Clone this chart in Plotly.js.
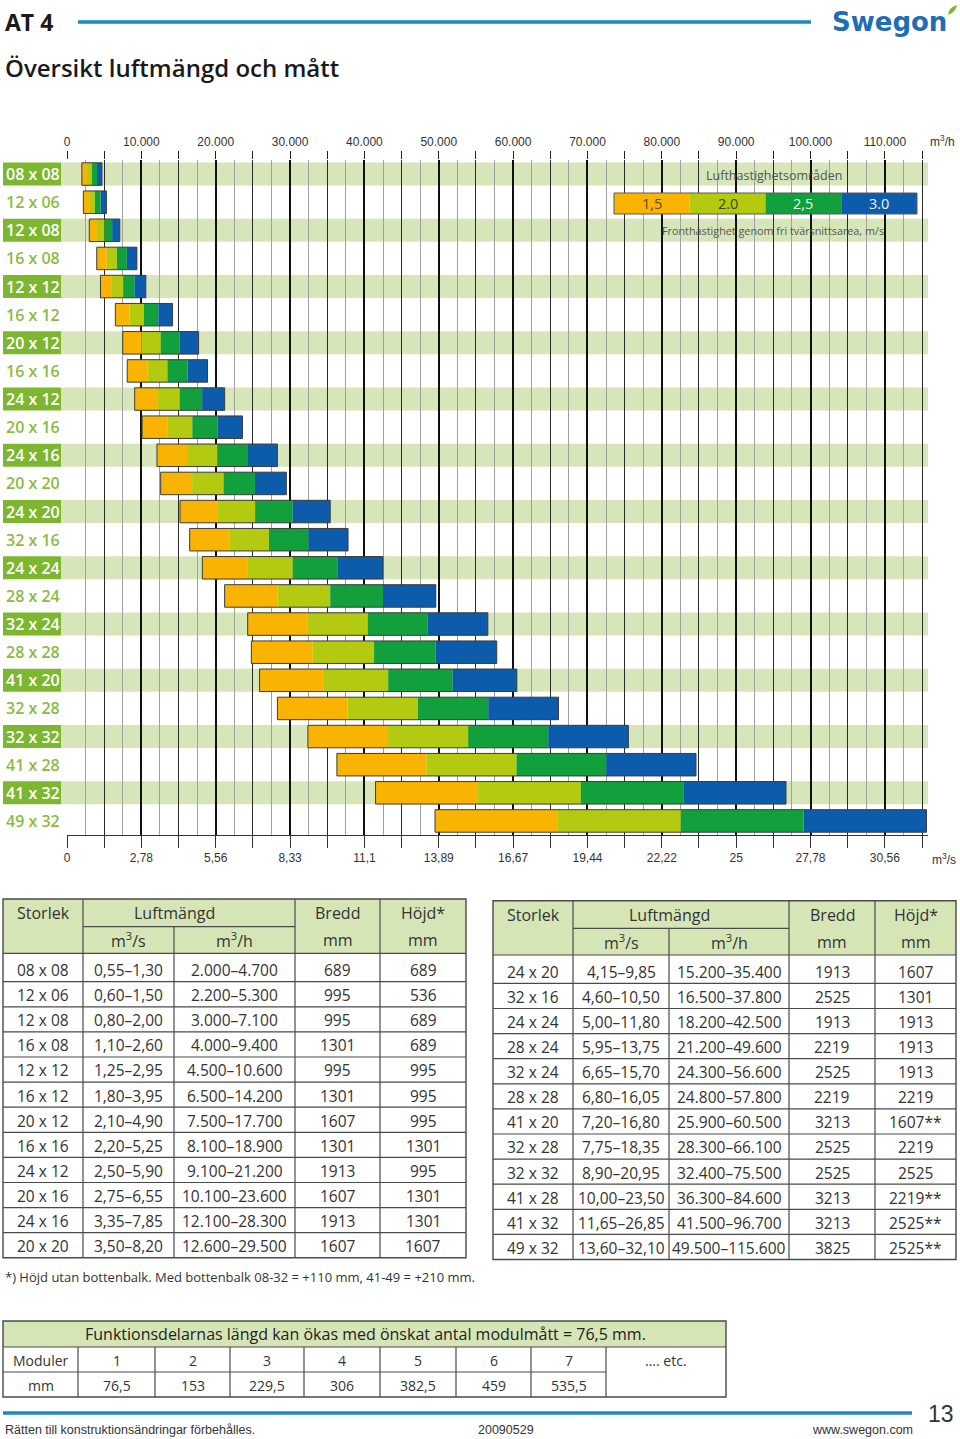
<!DOCTYPE html>
<html>
<head>
<meta charset="utf-8">
<script src="https://cdn.plot.ly/plotly-3.0.1.min.js"></script>
<style>
  html, body { margin: 0; padding: 0; background: #fff; }
  #chart { width: 960px; height: 1439px; }
</style>
</head>
<body>
<div id="chart"></div>
<script>
// Storlek (rows of the chart, top to bottom)
const sizes = ['08 x 08', '12 x 06', '12 x 08', '16 x 08', '12 x 12', '16 x 12', '20 x 12', '16 x 16',
    '24 x 12', '20 x 16', '24 x 16', '20 x 20', '24 x 20', '32 x 16', '24 x 24', '28 x 24',
    '32 x 24', '28 x 28', '41 x 20', '32 x 28', '32 x 32', '41 x 28', '41 x 32', '49 x 32'];
// Luftmängd m3/h, lower and upper limit
const flowMin = [2000, 2200, 3000, 4000, 4500, 6500, 7500, 8100, 9100, 10100, 12100, 12600,
    15200, 16500, 18200, 21200, 24300, 24800, 25900, 28300, 32400, 36300, 41500, 49500];
const flowMax = [4700, 5300, 7100, 9400, 10600, 14200, 17700, 18900, 21200, 23600, 28300, 29500,
    35400, 37800, 42500, 49600, 56600, 57800, 60500, 66100, 75500, 84600, 96700, 115600];
// Luftmängd m3/s
const flowM3s = ['0,55–1,30', '0,60–1,50', '0,80–2,00', '1,10–2,60', '1,25–2,95', '1,80–3,95',
    '2,10–4,90', '2,20–5,25', '2,50–5,90', '2,75–6,55', '3,35–7,85', '3,50–8,20',
    '4,15–9,85', '4,60–10,50', '5,00–11,80', '5,95–13,75', '6,65–15,70', '6,80–16,05',
    '7,20–16,80', '7,75–18,35', '8,90–20,95', '10,00–23,50', '11,65–26,85', '13,60–32,10'];
const widthMm = ['689', '995', '995', '1301', '995', '1301', '1607', '1301', '1913', '1607', '1913', '1607',
    '1913', '2525', '1913', '2219', '2525', '2219', '3213', '2525', '2525', '3213', '3213', '3825'];
const heightMm = ['689', '536', '689', '689', '995', '995', '995', '1301', '995', '1301', '1301', '1607',
    '1607', '1301', '1913', '1913', '1913', '2219', '1607**', '2219', '2525', '2219**', '2525**', '2525**'];

// Lufthastighetsområden
const speedLabels = ['1,5', '2.0', '2,5', '3.0'];
const speedColors = ['#f8b400', '#b3ca10', '#11a03c', '#0d5cab'];
const speedTextColors = ['#5b4a1c', '#3f4712', '#eaf6ec', '#eef2fa'];

const topTickLabels = ['0', '10.000', '20.000', '30.000', '40.000', '50.000', '60.000',
    '70.000', '80.000', '90.000', '100.000', '110.000'];
const bottomTickLabels = ['0', '2,78', '5,56', '8,33', '11,1', '13,89', '16,67',
    '19,44', '22,22', '25', '27,78', '30,56'];

const moduleCounts = ['1', '2', '3', '4', '5', '6', '7'];
const moduleLengths = ['76,5', '153', '229,5', '306', '382,5', '459', '535,5'];

// ---- page helpers (pixel -> paper) ----
const W = 960, H = 1439;
const fx = v => v / W;
const fy = v => 1 - v / H;
const FONT = 'Open Sans, Noto Sans, sans-serif';
const NARROW = 'Liberation Sans Narrow, Liberation Sans, sans-serif';
const LINE = '#4a4a4a';
const HEAD_FILL = '#d6e5b6';
const shapes = [];
const annotations = [];

function box(x0, y0, x1, y1, fill, lineColor, lineWidth, layer) {
    shapes.push({
        type: 'rect', xref: 'paper', yref: 'paper',
        x0: fx(x0), x1: fx(x1), y0: fy(y0), y1: fy(y1),
        fillcolor: fill || 'rgba(0,0,0,0)',
        line: { color: lineColor || 'rgba(0,0,0,0)', width: lineWidth || 0 },
        layer: layer || 'above'
    });
}
function hline(x0, x1, y, color, width) {
    shapes.push({ type: 'line', xref: 'paper', yref: 'paper', x0: fx(x0), x1: fx(x1), y0: fy(y), y1: fy(y),
        line: { color: color || LINE, width: width || 1.2 }, layer: 'above' });
}
function vline(x, y0, y1, color, width) {
    shapes.push({ type: 'line', xref: 'paper', yref: 'paper', x0: fx(x), x1: fx(x), y0: fy(y0), y1: fy(y1),
        line: { color: color || LINE, width: width || 1.2 }, layer: 'above' });
}
function label(x, y, text, size, color, anchor, extra) {
    annotations.push(Object.assign({
        xref: 'paper', yref: 'paper', x: fx(x), y: fy(y), text: text, showarrow: false,
        xanchor: anchor || 'center', yanchor: 'middle',
        font: { family: FONT, size: size, color: color || '#333' }
    }, extra || {}));
}
const dotted = n => String(n).replace(/\B(?=(\d{3})+(?!\d))/g, '.');

// ---- page header / footer ----
label(3, 22, 'AT 4', 23, '#1a1a1a', 'left', { font: { family: FONT, size: 23, color: '#1a1a1a', weight: 700 } });
hline(78, 811, 22, '#1b8ac6', 3.5);
label(830, 22, 'Swegon', 26, '#1f6db5', 'left',
    { font: { family: 'DejaVu Sans, sans-serif', size: 26, color: '#1f6db5', weight: 700 } });
// small green leaf of the logo
shapes.push({ type: 'path', xref: 'paper', yref: 'paper', layer: 'above',
    path: 'M ' + fx(948) + ' ' + fy(15) + ' Q ' + fx(949) + ' ' + fy(7) + ' ' + fx(957) + ' ' + fy(5) +
        ' Q ' + fx(956) + ' ' + fy(12) + ' ' + fx(948) + ' ' + fy(15) + ' Z',
    fillcolor: '#7ab929', line: { width: 0 } });
label(3, 68, 'Översikt luftmängd och mått', 24, '#1a1a1a', 'left',
    { font: { family: FONT, size: 24, color: '#1a1a1a', weight: 600 } });

hline(3, 912, 1413, '#1b8ac6', 3.5);
label(941, 1414, '13', 23, '#333', 'center', { font: { family: NARROW, size: 23, color: '#333' } });
label(3, 1430, 'Rätten till konstruktionsändringar förbehålles.', 12.5, '#333', 'left',
    { font: { family: NARROW, size: 12.5, color: '#333' } });
label(506, 1430, '20090529', 12.5, '#333', 'center',
    { font: { family: NARROW, size: 12.5, color: '#333' } });
label(915, 1430, 'www.swegon.com', 12.5, '#333', 'right',
    { font: { family: NARROW, size: 12.5, color: '#333' } });

// ---- chart: row bands and labels ----
sizes.forEach((s, i) => {
    const striped = i % 2 === 0;
    if (striped) {
        shapes.push({ type: 'rect', xref: 'paper', yref: 'y', x0: fx(61), x1: fx(928), y0: i - 0.41, y1: i + 0.41,
            fillcolor: '#d6e6b8', line: { width: 0 }, layer: 'below' });
        shapes.push({ type: 'rect', xref: 'paper', yref: 'y', x0: fx(3), x1: fx(61), y0: i - 0.41, y1: i + 0.41,
            fillcolor: '#7db730', line: { width: 0 }, layer: 'below' });
    }
    annotations.push({
        xref: 'paper', yref: 'y', x: fx(33), y: s, text: s, showarrow: false,
        xanchor: 'center', yanchor: 'middle',
        font: { family: FONT, size: 16, color: striped ? '#ffffff' : '#8cbb45', weight: 600 }
    });
});

// legend box: Lufthastighetsområden
label(774, 175, 'Lufthastighetsområden', 12.5, '#555');
label(773, 231, 'Fronthastighet genom fri tvärsnittsarea, m/s', 10.8, '#555');
const legX0 = 614, legX1 = 917, legStep = (legX1 - legX0) / speedLabels.length;
speedLabels.forEach((t, k) => {
    box(legX0 + k * legStep, 193, legX0 + (k + 1) * legStep, 214, speedColors[k], null, 0, 'above');
    label(legX0 + (k + 0.5) * legStep, 204, t, 14.5, speedTextColors[k]);
});
box(legX0, 193, legX1, 214, null, '#5a5a5a', 1, 'above');

label(928, 141, 'm<sup>3</sup>/h', 12, '#333', 'left',
    { font: { family: 'Liberation Sans, sans-serif', size: 12, color: '#333' } });
label(930, 859, 'm<sup>3</sup>/s', 12, '#333', 'left',
    { font: { family: 'Liberation Sans, sans-serif', size: 12, color: '#333' } });

// ---- chart traces: four velocity segments per size ----
const traces = speedLabels.map((sp, k) => ({
    type: 'bar', orientation: 'h', name: sp,
    y: sizes,
    base: sizes.map((s, i) => flowMin[i] + k * (flowMax[i] - flowMin[i]) / 4),
    x: sizes.map((s, i) => (flowMax[i] - flowMin[i]) / 4),
    width: 0.8,
    marker: { color: speedColors[k], line: { width: 0 } },
    hovertemplate: '%{y}<extra></extra>'
}));
traces.push({
    type: 'bar', orientation: 'h', name: 'range',
    y: sizes, base: flowMin, x: sizes.map((s, i) => flowMax[i] - flowMin[i]),
    width: 0.8,
    marker: { color: 'rgba(0,0,0,0)', line: { color: '#3c3c3c', width: 1 } },
    customdata: sizes.map((s, i) => dotted(flowMin[i]) + '–' + dotted(flowMax[i])),
    hovertemplate: '%{y}: %{customdata} m³/h<extra></extra>'
});
// dummy traces so the overlay axes get drawn
['x2', 'x3'].forEach(ax => traces.push({
    type: 'scatter', mode: 'markers', x: [0], y: [sizes[0]], xaxis: ax, yaxis: 'y',
    marker: { opacity: 0 }, hoverinfo: 'skip', showlegend: false
}));

const xRange = [0, 115800];
const ticks10k = [], ticksHalf = [];
for (let v = 0; v <= 110000; v += 10000) ticks10k.push(v);
for (let v = 2500; v <= 115000; v += 5000) ticksHalf.push(v);
const tickFont = { family: 'Liberation Sans, Arial, sans-serif', size: 12, color: '#333' };

// ---- size tables ----
function drawSizeTable(cols, top, from, to) {
    const sub = top + 27.7, head = top + 54.3, row0 = top + 82.7, rowH = 25.1;
    const n = to - from;
    const bottom = row0 + (n - 1) * rowH;
    box(cols[0], top, cols[5], head, HEAD_FILL, null, 0, 'above');
    hline(cols[1], cols[3], sub);
    hline(cols[0], cols[5], head);
    for (let r = 0; r < n - 1; r++) hline(cols[0], cols[5], row0 + r * rowH);
    vline(cols[1], top, bottom);
    vline(cols[2], sub, bottom);
    vline(cols[3], top, bottom);
    vline(cols[4], top, bottom);
    box(cols[0], top, cols[5], bottom, null, LINE, 1.4, 'above');
    const c = k => (cols[k] + cols[k + 1]) / 2;
    label(c(0), top + 14, 'Storlek', 16);
    label(cols[2], top + 14, 'Luftmängd', 16);
    label(c(3), top + 14, 'Bredd', 16);
    label(c(4), top + 14, 'Höjd*', 16);
    label(c(1), top + 41, 'm<sup>3</sup>/s', 16);
    label(c(2), top + 41, 'm<sup>3</sup>/h', 16);
    label(c(3), top + 41, 'mm', 16);
    label(c(4), top + 41, 'mm', 16);
    for (let i = from; i < to; i++) {
        const y = top + 71 + (i - from) * rowH;
        label(c(0), y, sizes[i], 15.5);
        label(c(1), y, flowM3s[i], 15.5);
        label(c(2), y, dotted(flowMin[i]) + '–' + dotted(flowMax[i]), 15.5);
        label(c(3), y, widthMm[i], 15.5);
        label(c(4), y, heightMm[i], 15.5);
    }
}
drawSizeTable([3, 83, 174, 295, 380, 466], 899, 0, 12);
drawSizeTable([493, 573, 669, 789, 875, 956], 900.7, 12, 24);
label(3, 1277, '*) Höjd utan bottenbalk. Med bottenbalk 08-32 = +110 mm, 41-49 = +210 mm.', 13, '#333', 'left');

// ---- module table ----
const mCols = [3, 78, 155, 230, 304, 380, 456, 531, 606, 726];
const mTop = 1321, mHead = 1347, mMid = 1372, mBot = 1397;
box(mCols[0], mTop, mCols[9], mHead, HEAD_FILL, null, 0, 'above');
hline(mCols[0], mCols[9], mHead);
hline(mCols[0], mCols[8], mMid);
for (let k = 1; k < 9; k++) vline(mCols[k], mHead, mBot);
box(mCols[0], mTop, mCols[9], mBot, null, LINE, 1.4, 'above');
label(365, 1334, 'Funktionsdelarnas längd kan ökas med önskat antal modulmått = 76,5 mm.', 16, '#222');
label((mCols[0] + mCols[1]) / 2, 1360, 'Moduler', 14);
label((mCols[0] + mCols[1]) / 2, 1385, 'mm', 14);
moduleCounts.forEach((m, k) => {
    const cx = (mCols[k + 1] + mCols[k + 2]) / 2;
    label(cx, 1360, m, 14);
    label(cx, 1385, moduleLengths[k], 14);
});
label(666, 1360, '.... etc.', 14);

const layout = {
    width: W, height: H,
    margin: { l: 0, r: 0, t: 0, b: 0 },
    paper_bgcolor: '#ffffff',
    plot_bgcolor: 'rgba(0,0,0,0)',
    showlegend: false,
    barmode: 'overlay',
    // bottom axis: m3/s labels, heavy grid every 10.000 m3/h, lighter every 5.000
    xaxis: {
        domain: [fx(67), fx(928)], range: xRange, anchor: 'y', side: 'bottom',
        tickmode: 'array', tickvals: ticks10k, ticktext: bottomTickLabels,
        ticks: 'outside', ticklen: 12, tickwidth: 1, tickcolor: '#333',
        showline: true, linecolor: '#333', linewidth: 1,
        showgrid: true, gridcolor: '#111', gridwidth: 1.7, zeroline: false,
        minor: { tickmode: 'linear', tick0: 0, dtick: 5000, ticks: 'outside', ticklen: 12, tickcolor: '#333',
            showgrid: true, gridcolor: '#2a2a2a', gridwidth: 1 },
        tickfont: tickFont, fixedrange: true
    },
    // top axis: m3/h labels
    xaxis2: {
        overlaying: 'x', anchor: 'y', side: 'top', range: xRange,
        tickmode: 'array', tickvals: ticks10k, ticktext: topTickLabels,
        ticks: 'outside', ticklen: 8, tickwidth: 1, tickcolor: '#222',
        minor: { tickmode: 'linear', tick0: 0, dtick: 5000, ticks: 'outside', ticklen: 8, tickcolor: '#222', showgrid: false },
        showline: false, showgrid: false, zeroline: false,
        tickfont: tickFont, fixedrange: true
    },
    // thin grey grid halfway between
    xaxis3: {
        overlaying: 'x', anchor: 'y', range: xRange,
        tickmode: 'array', tickvals: ticksHalf, showticklabels: false, ticks: '',
        showline: false, showgrid: true, gridcolor: '#a0a0a0', gridwidth: 1, zeroline: false,
        fixedrange: true
    },
    yaxis: {
        domain: [fy(835), fy(160)], type: 'category', categoryorder: 'array', categoryarray: sizes,
        range: [sizes.length - 0.5, -0.5],
        showticklabels: false, showgrid: false, zeroline: false, ticks: '', fixedrange: true
    },
    shapes: shapes,
    annotations: annotations
};

Plotly.newPlot('chart', traces, layout, { displayModeBar: false, responsive: false });
</script>
</body>
</html>
